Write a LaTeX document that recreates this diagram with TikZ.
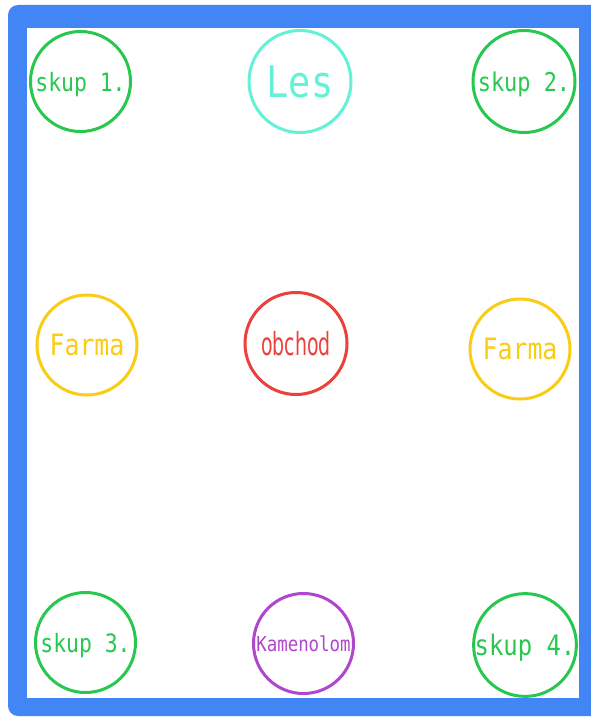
\documentclass[tikz,border=0pt]{standalone}
\usepackage{fontspec}
\newfontfamily\monofont{DejaVu Sans Mono}
\newfontfamily\narrowfont{DejaVu Sans Condensed}
\usetikzlibrary{positioning}

\definecolor{frameblue}{RGB}{66,133,244}
\definecolor{skupgreen}{RGB}{40,200,80}
\definecolor{lesaqua}{RGB}{100,242,214}
\definecolor{farmayellow}{RGB}{250,204,21}
\definecolor{shopred}{RGB}{236,64,58}
\definecolor{stonepurple}{RGB}{176,70,206}

% taller glyphs, as in the original lettering
\newcommand{\tallword}[2][1]{\scalebox{#1}[1.18]{#2}}

\begin{document}
\begin{tikzpicture}[
    x=1bp, y=-1bp,
    place/.style={circle, draw, line width=3bp, minimum size=100bp, inner sep=0pt, text depth=0pt, font=\monofont},
    skup/.style={place, draw=skupgreen, text=skupgreen}
]
\useasboundingbox (0,0) rectangle (591,717);

% Frame
\fill[frameblue, rounded corners=10bp] (8,5) rectangle (610,716);
\fill[white] (27,28) rectangle (579,698);

% Top row
\node[skup, font=\monofont\fontsize{21.5}{21.5}\selectfont] (skupA) at (80.5,81.5) {\tallword{skup 1.}};
\node[place, draw=lesaqua, text=lesaqua, minimum size=102bp, font=\monofont\fontsize{37}{37}\selectfont] (les) at (300,81.5) {\tallword{Les}};
\node[skup, minimum size=102bp, font=\monofont\fontsize{22}{22}\selectfont] (skupB) at (524,81.5) {\tallword{skup 2.}};

% Middle row
\node[place, draw=farmayellow, text=farmayellow, font=\monofont\fontsize{25}{25}\selectfont] (farmaL) at (87,345) {\tallword{Farma}};
\node[place, draw=shopred, text=shopred, minimum size=102bp, font=\narrowfont\fontsize{27}{27}\selectfont] (obchod) at (296,343.5) {\tallword[0.78]{obchod}};
\node[place, draw=farmayellow, text=farmayellow, font=\monofont\fontsize{25}{25}\selectfont] (farmaR) at (520,349) {\tallword{Farma}};

% Bottom row
\node[skup, font=\monofont\fontsize{21.5}{21.5}\selectfont] (skupC) at (85.5,642.5) {\tallword{skup 3.}};
\node[place, draw=stonepurple, text=stonepurple, font=\monofont\fontsize{17.5}{17.5}\selectfont] (kamenolom) at (303.5,643.5) {\tallword{Kamenolom}};
\node[skup, minimum size=102bp, font=\monofont\fontsize{24}{24}\selectfont] (skupD) at (525,645) {\tallword{skup 4.}};

\end{tikzpicture}
\end{document}
